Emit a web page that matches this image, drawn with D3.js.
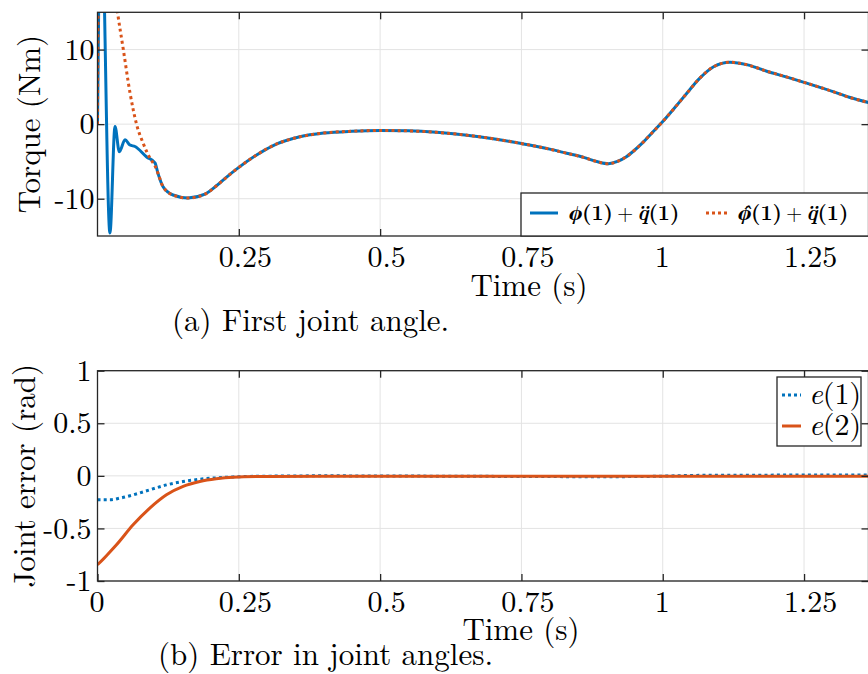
<!DOCTYPE html>
<html>
<head>
<meta charset="utf-8">
<script src="https://cdnjs.cloudflare.com/ajax/libs/d3/7.8.5/d3.min.js"></script>
<style>
  body { margin: 0; background: #fff; }
  svg { display: block; }
  text { font-family: 'Latin Modern Roman', 'Liberation Serif', serif; fill: #000; }
</style>
</head>
<body>
<svg id="fig" width="868" height="674"></svg>
<script>
// ---- data ----
var xTicks = [0.25, 0.5, 0.75, 1, 1.25];
var xTicksB = [0, 0.25, 0.5, 0.75, 1, 1.25];
var yTicksA = [-10, 0, 10];
var yTicksB = [-1, -0.5, 0, 0.5, 1];

// torque, part shared by both curves (after the transient)
var tCommon = [0.107, 0.116, 0.1336, 0.16, 0.19, 0.21, 0.23, 0.25, 0.28, 0.31, 0.358, 0.4, 0.45, 0.5,
               0.55, 0.6, 0.65, 0.7, 0.75, 0.8, 0.83, 0.86, 0.885, 0.904, 0.92, 0.935, 0.95, 0.965,
               0.98, 1.0, 1.02, 1.04, 1.066, 1.09, 1.119, 1.15, 1.184, 1.22, 1.25, 1.3, 1.33, 1.364];
var vCommon = [-6.6, -8.4, -9.5, -9.9, -9.4, -8.3, -7.0, -5.8, -4.2, -2.9, -1.7, -1.2, -0.95, -0.85,
               -0.9, -1.1, -1.45, -1.95, -2.6, -3.35, -3.9, -4.45, -5.05, -5.3, -5.0, -4.4, -3.5, -2.45,
               -1.25, 0.35, 2.1, 3.9, 6.2, 7.7, 8.3, 7.95, 7.1, 6.3, 5.6, 4.4, 3.6, 2.9];
// transients
var tPhi = [0, 0.004, 0.008, 0.0125, 0.022, 0.031, 0.0386, 0.0487, 0.0575, 0.0663, 0.087, 0.1017];
var vPhi = [0, 30, 35, 15, -14.6, -0.3, -3.7, -2.1, -2.8, -3.0, -4.4, -5.2];
var tPhiHat = [0, 0.004, 0.015, 0.025, 0.035, 0.0457, 0.0575, 0.0694, 0.081, 0.093, 0.1017];
var vPhiHat = [0, 45, 32, 21, 15.2, 10, 4.2, -0.1, -2.6, -4.6, -5.6];

// joint errors
var tE1 = [0, 0.022, 0.0395, 0.063, 0.0925, 0.122, 0.1515, 0.181, 0.2105, 0.24, 0.3, 0.4, 0.6, 0.9, 1.0, 1.05, 1.2, 1.364];
var vE1 = [-0.228, -0.228, -0.212, -0.181, -0.133, -0.086, -0.054, -0.032, -0.019, -0.01, -0.003, 0, -0.003, -0.008, -0.003, 0.004, 0.007, 0.008];
var tE2 = [0, 0.015, 0.0336, 0.063, 0.0925, 0.122, 0.1515, 0.181, 0.21, 0.24, 0.3, 0.4, 0.8, 1.364];
var vE2 = [-0.846, -0.764, -0.656, -0.466, -0.307, -0.18, -0.1, -0.054, -0.028, -0.013, -0.005, -0.003, -0.003, -0.003];

var blue = '#0072BD', orange = '#D95319';
var axisCol = '#262626', gridCol = '#e3e3e3';

function zip(ts, vs) { return ts.map(function(t, i) { return {t: t, v: vs[i]}; }); }

var svg = d3.select('#fig');
var L = 97.5, R = 868.5;

function panel(opts) {
  var g = svg.append('g');
  var x = d3.scaleLinear().domain([0, 1.364]).range([L, R]);
  var y = d3.scaleLinear().domain(opts.yDomain).range([opts.bottom, opts.top]);

  g.append('clipPath').attr('id', opts.id)
    .append('rect').attr('x', L).attr('y', opts.top).attr('width', R - L).attr('height', opts.bottom - opts.top);

  // grid
  g.append('g').selectAll('line').data(xTicks).enter().append('line')
    .attr('x1', function(d) { return x(d); }).attr('x2', function(d) { return x(d); })
    .attr('y1', opts.top).attr('y2', opts.bottom)
    .attr('stroke', gridCol).attr('stroke-width', 1);
  g.append('g').selectAll('line').data(opts.yTicks).enter().append('line')
    .attr('x1', L).attr('x2', R)
    .attr('y1', function(d) { return y(d); }).attr('y2', function(d) { return y(d); })
    .attr('stroke', gridCol).attr('stroke-width', 1);

  var line = d3.line().curve(d3.curveMonotoneX)
    .x(function(d) { return x(d.t); }).y(function(d) { return y(d.v); });

  var lines = g.append('g').attr('clip-path', 'url(#' + opts.id + ')');
  opts.series.forEach(function(s) {
    lines.append('path').datum(s.data)
      .attr('d', line).attr('fill', 'none')
      .attr('stroke', s.color).attr('stroke-width', 3)
      .attr('stroke-dasharray', s.dash ? '3,3.2' : null);
  });

  // axes, ticks inward
  var fmt = function(d) { return String(d); };
  var ax = g.append('g').attr('transform', 'translate(0,' + opts.bottom + ')')
    .call(d3.axisBottom(x).tickValues(opts.xLabelTicks).tickFormat(fmt)
      .tickSizeInner(-7).tickSizeOuter(0).tickPadding(10));
  // matlab puts decimal labels a little right of the tick
  ax.selectAll('text').attr('dx', function(d) { return d % 1 ? 6 : -1; });
  var axT = g.append('g').attr('transform', 'translate(0,' + opts.top + ')')
    .call(d3.axisTop(x).tickValues(xTicks).tickFormat('').tickSizeInner(-7).tickSizeOuter(0));
  var ay = g.append('g').attr('transform', 'translate(' + L + ',0)')
    .call(d3.axisLeft(y).tickValues(opts.yTicks).tickFormat(fmt)
      .tickSizeInner(-7).tickSizeOuter(0).tickPadding(opts.yPad));
  var ayR = g.append('g').attr('transform', 'translate(' + R + ',0)')
    .call(d3.axisRight(y).tickValues(opts.yTicks).tickFormat('').tickSizeInner(-7).tickSizeOuter(0));
  [ax, axT, ay, ayR].forEach(function(a) {
    a.attr('font-family', null).attr('font-size', null);
    a.select('.domain').remove();
    a.selectAll('line').attr('stroke', axisCol).attr('stroke-width', 1.3);
    a.selectAll('text').style('font-size', '30px').attr('fill', '#000');
  });

  g.append('rect').attr('x', L).attr('y', opts.top)
    .attr('width', R - L).attr('height', opts.bottom - opts.top)
    .attr('fill', 'none').attr('stroke', axisCol).attr('stroke-width', 1.3);

  // labels
  g.append('text').attr('x', opts.xlabX).attr('y', opts.xlabY)
    .attr('text-anchor', 'middle').style('font-size', '31px').text('Time (s)');
  g.append('text')
    .attr('transform', 'translate(' + opts.ylabX + ',' + ((opts.top + opts.bottom) / 2) + ') rotate(-90)')
    .attr('text-anchor', 'middle').style('font-size', '31px').text(opts.ylabel);
  g.append('text').attr('x', opts.capX).attr('y', opts.capY)
    .style('font-size', '31px').text(opts.caption);

  return {g: g, x: x, y: y};
}

// ---- (a) torque ----
var pa = panel({
  id: 'clipA', top: 12.3, bottom: 236, yDomain: [-15, 15], yTicks: yTicksA,
  xLabelTicks: xTicks, yPad: 3,
  series: [
    {data: zip(tPhi.concat(tCommon), vPhi.concat(vCommon)), color: blue, dash: false},
    {data: zip(tPhiHat.concat(tCommon), vPhiHat.concat(vCommon)), color: orange, dash: true}
  ],
  xlabX: 529, xlabY: 296, ylabX: 40, ylabel: 'Torque (Nm)',
  capX: 172, capY: 331, caption: '(a) First joint angle.'
});

// legend (a)
var lgA = pa.g.append('g');
lgA.append('rect').attr('x', 521).attr('y', 193).attr('width', R - 521).attr('height', 236 - 193)
  .attr('fill', '#fff').attr('stroke', axisCol).attr('stroke-width', 1.3);
lgA.append('line').attr('x1', 530).attr('x2', 558).attr('y1', 213).attr('y2', 213)
  .attr('stroke', blue).attr('stroke-width', 3);
lgA.append('line').attr('x1', 706).attr('x2', 727).attr('y1', 213).attr('y2', 213)
  .attr('stroke', orange).attr('stroke-width', 3).attr('stroke-dasharray', '3,3');
function mathLabel(xp, hat) {
  var t = lgA.append('text').attr('x', xp).attr('y', 220).style('font-size', '21px').attr('font-weight', 'bold');
  t.append('tspan').attr('font-style', 'italic').style('font-family', 'FreeSerif')
    .text(hat ? '\u03D5\u0302' : '\u03D5');
  t.append('tspan').text('(1)');
  t.append('tspan').attr('font-weight', 'normal').attr('dx', 4).text('+');
  t.append('tspan').attr('font-style', 'italic').attr('dx', 4).text('q\u0308');
  t.append('tspan').text('(1)');
}
mathLabel(569, false);
mathLabel(738, true);

// ---- (b) joint error ----
var pb = panel({
  id: 'clipB', top: 370.7, bottom: 581, yDomain: [-1, 1], yTicks: yTicksB,
  xLabelTicks: xTicksB, yPad: 6,
  series: [
    {data: zip(tE1, vE1), color: blue, dash: true},
    {data: zip(tE2, vE2), color: orange, dash: false}
  ],
  xlabX: 521, xlabY: 640, ylabX: 35, ylabel: 'Joint error (rad)',
  capX: 158, capY: 665, caption: '(b) Error in joint angles.'
});

var lgB = pb.g.append('g');
lgB.append('rect').attr('x', 777).attr('y', 377).attr('width', 84).attr('height', 69)
  .attr('fill', '#fff').attr('stroke', axisCol).attr('stroke-width', 1.3);
lgB.append('line').attr('x1', 782).attr('x2', 801).attr('y1', 395).attr('y2', 395)
  .attr('stroke', blue).attr('stroke-width', 3).attr('stroke-dasharray', '3,3');
lgB.append('line').attr('x1', 782).attr('x2', 801).attr('y1', 426).attr('y2', 426)
  .attr('stroke', orange).attr('stroke-width', 3);
['1', '2'].forEach(function(k, i) {
  var t = lgB.append('text').attr('x', 809).attr('y', 404 + i * 31).style('font-size', '30px');
  t.append('tspan').attr('font-style', 'italic').text('e');
  t.append('tspan').text('(' + k + ')');
});
</script>
</body>
</html>
